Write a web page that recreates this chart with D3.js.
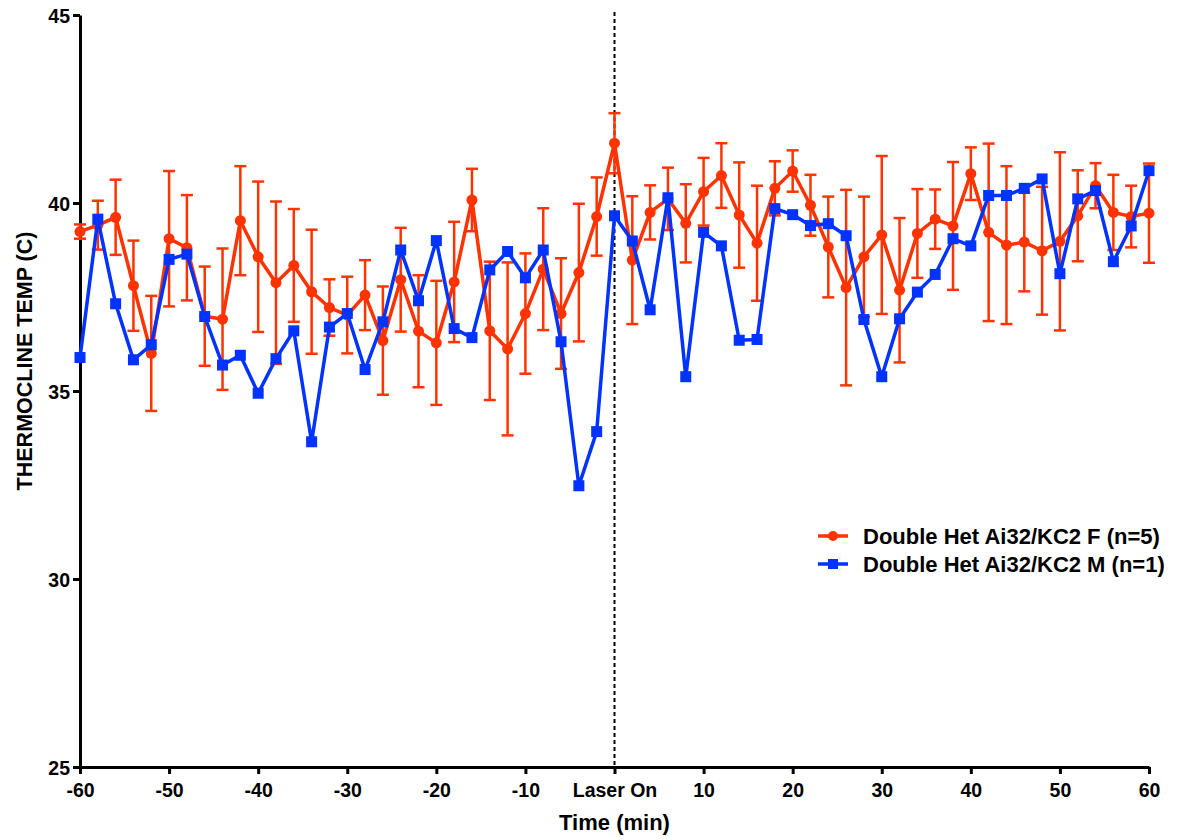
<!DOCTYPE html>
<html>
<head>
<meta charset="utf-8">
<script src="https://cdn.jsdelivr.net/npm/d3@7"></script>
<style>
  body { margin: 0; background: #fff; }
  svg { display: block; }
  text { font-family: "Liberation Sans", Arial, sans-serif; font-weight: bold; fill: #000; }
</style>
</head>
<body>
<svg id="chart" width="1197" height="840"></svg>
<script>
// Sampling times (min) relative to laser onset
const minutes = [-60,-58,-56,-54,-52,-50,-48,-46,-44,-42,-40,-38,-36,-34,-32,-30,-28,-26,-24,-22,-20,
  -18,-16,-14,-12,-10,-8,-6,-4,-2,0,2,4,6,8,10,12,14,16,18,20,22,24,26,28,30,32,34,36,38,40,
  42,44,46,48,50,52,54,56,58,60];

// Female group (n=5): mean and SEM
const femaleMean = [39.24,39.41,39.62,37.80,36.00,39.05,38.81,36.99,36.91,39.53,38.57,37.88,38.34,37.64,37.22,37.02,37.55,36.34,37.96,36.59,36.28,
  37.90,40.08,36.60,36.12,37.06,38.24,37.06,38.15,39.64,41.59,38.48,39.75,40.11,39.46,40.30,40.73,39.68,38.93,40.39,40.85,
  39.94,38.83,37.75,38.57,39.15,37.68,39.19,39.57,39.39,40.78,39.22,38.88,38.96,38.73,38.98,39.66,40.46,39.75,39.64,39.73];
const femaleSem = [0.19,0.65,1.00,1.20,1.53,1.80,1.40,1.32,1.88,1.45,2.00,2.16,1.50,1.65,0.75,1.02,0.93,1.44,1.38,1.49,1.65,
  1.60,0.83,1.84,2.30,1.60,1.62,1.47,1.83,1.04,0.80,1.70,0.72,0.83,1.04,0.90,0.86,1.40,1.53,0.72,0.55,
  0.81,1.34,2.60,1.60,2.10,1.92,1.18,0.79,1.70,0.70,2.36,2.10,1.31,1.70,2.37,1.21,0.60,1.00,0.82,1.32];

// Male animal (n=1)
const maleTemp = [35.89,39.57,37.32,35.83,36.23,38.50,38.64,36.98,35.69,35.95,34.94,35.86,36.60,33.65,36.70,37.06,35.57,36.84,38.75,37.40,39.00,
  36.66,36.42,38.22,38.71,38.01,38.75,36.31,32.48,33.92,39.66,38.99,37.16,40.14,35.38,39.22,38.86,36.35,36.37,39.85,39.69,
  39.40,39.45,39.13,36.90,35.38,36.92,37.63,38.10,39.05,38.86,40.20,40.20,40.39,40.64,38.12,40.11,40.33,38.44,39.39,40.86];

const xTicks = [-60,-50,-40,-30,-20,-10,0,10,20,30,40,50,60];
const xTickLabels = ["-60","-50","-40","-30","-20","-10","Laser On","10","20","30","40","50","60"];
const yTicks = [25,30,35,40,45];
const seriesNames = ["Double Het Ai32/KC2 F (n=5)", "Double Het Ai32/KC2 M (n=1)"];
const seriesColors = ["#ff3300", "#0033ff"];

const svg = d3.select("#chart");
const plotLeft = 80, plotRight = 1149, plotTop = 15, plotBottom = 767;

const x = d3.scaleLinear().domain([-60, 60]).range([plotLeft, plotRight]);
const y = d3.scaleLinear().domain([25, 45]).range([plotBottom, plotTop]);

// Laser onset marker
svg.append("line")
  .attr("x1", x(0)).attr("x2", x(0))
  .attr("y1", 12).attr("y2", plotBottom)
  .attr("stroke", "#000").attr("stroke-width", 2)
  .attr("stroke-dasharray", "4,3");

// Axes
const xAxis = svg.append("g")
  .attr("transform", `translate(0,${plotBottom})`)
  .call(d3.axisBottom(x).tickValues(xTicks)
    .tickFormat((d, i) => xTickLabels[i]).tickSize(7).tickSizeOuter(0));
const yAxis = svg.append("g")
  .attr("transform", `translate(${plotLeft},0)`)
  .call(d3.axisLeft(y).tickValues(yTicks).tickSize(7).tickSizeOuter(0));

[xAxis, yAxis].forEach(g => {
  g.select(".domain").attr("stroke", "#000").attr("stroke-width", 3);
  g.selectAll(".tick line").attr("stroke", "#000").attr("stroke-width", 3);
  g.selectAll(".tick text").attr("font-size", 19.5).attr("font-family", null).attr("fill", "#000");
});
xAxis.selectAll(".tick text").attr("y", 30).attr("dy", 0);
yAxis.selectAll(".tick text").attr("x", -10).attr("dy", "0.36em");

// Axis titles
svg.append("text")
  .attr("x", x(0)).attr("y", 830)
  .attr("text-anchor", "middle").attr("font-size", 22)
  .text("Time (min)");
svg.append("text")
  .attr("transform", "translate(32,361) rotate(-90)")
  .attr("text-anchor", "middle").attr("font-size", 21.5)
  .text("THERMOCLINE TEMP (C)");

const female = minutes.map((m, i) => ({ m, v: femaleMean[i], e: femaleSem[i] }));
const male = minutes.map((m, i) => ({ m, v: maleTemp[i] }));
const line = d3.line().x(d => x(d.m)).y(d => y(d.v));

// Female: error bars, line, circles
const fg = svg.append("g");
const eb = fg.selectAll("g.err").data(female).join("g").attr("class", "err")
  .attr("stroke", seriesColors[0]).attr("stroke-width", 2.5);
eb.append("line")
  .attr("x1", d => x(d.m)).attr("x2", d => x(d.m))
  .attr("y1", d => y(d.v + d.e)).attr("y2", d => y(d.v - d.e));
eb.append("line")
  .attr("x1", d => x(d.m) - 6).attr("x2", d => x(d.m) + 6)
  .attr("y1", d => y(d.v + d.e)).attr("y2", d => y(d.v + d.e));
eb.append("line")
  .attr("x1", d => x(d.m) - 6).attr("x2", d => x(d.m) + 6)
  .attr("y1", d => y(d.v - d.e)).attr("y2", d => y(d.v - d.e));
fg.append("path").datum(female).attr("d", line)
  .attr("fill", "none").attr("stroke", seriesColors[0]).attr("stroke-width", 3.5);
fg.selectAll("circle").data(female).join("circle")
  .attr("cx", d => x(d.m)).attr("cy", d => y(d.v)).attr("r", 5.5)
  .attr("fill", seriesColors[0]);

// Male: line and squares
const mg = svg.append("g");
mg.append("path").datum(male).attr("d", line)
  .attr("fill", "none").attr("stroke", seriesColors[1]).attr("stroke-width", 3.5);
mg.selectAll("rect").data(male).join("rect")
  .attr("x", d => x(d.m) - 5.5).attr("y", d => y(d.v) - 5.5)
  .attr("width", 11).attr("height", 11)
  .attr("fill", seriesColors[1]);

// Legend
const legend = svg.append("g").attr("transform", "translate(818,536)");
seriesNames.forEach((name, i) => {
  const row = legend.append("g").attr("transform", `translate(0,${i * 28})`);
  row.append("line").attr("x1", 0).attr("x2", 30).attr("y1", 0).attr("y2", 0)
    .attr("stroke", seriesColors[i]).attr("stroke-width", 3.5);
  if (i === 0) {
    row.append("circle").attr("cx", 15).attr("cy", 0).attr("r", 5).attr("fill", seriesColors[i]);
  } else {
    row.append("rect").attr("x", 10).attr("y", -5).attr("width", 10).attr("height", 10).attr("fill", seriesColors[i]);
  }
  row.append("text").attr("x", 45).attr("y", 0).attr("dy", "0.36em")
    .attr("font-size", 22).text(name);
});
</script>
</body>
</html>
